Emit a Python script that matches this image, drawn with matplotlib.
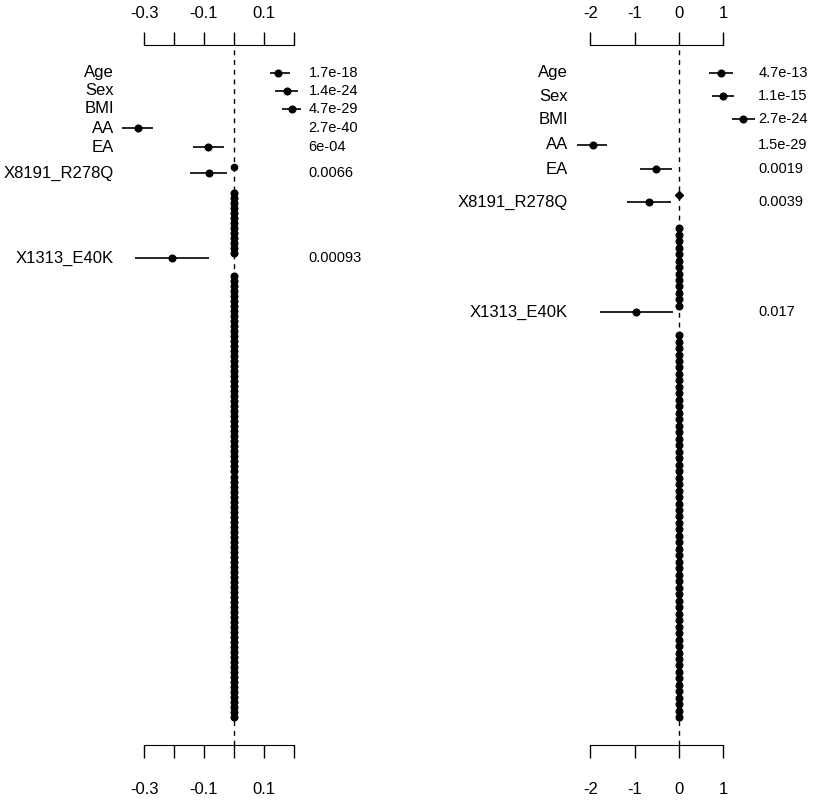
import matplotlib.pyplot as plt
import numpy as np

plt.rcParams['font.family'] = ['Liberation Sans', 'DejaVu Sans']

# rows that carry a label (same order in both panels)
labels = ["Age", "Sex", "BMI", "AA", "EA", "X8191_R278Q", "X1313_E40K"]
row_pos = [0, 3.6, 7.2, 11.1, 14.9, 20.0, 37.0]

# left panel
left_est = [0.149, 0.177, 0.196, -0.321, -0.087, -0.083, -0.206]
left_lo = [0.121, 0.138, 0.160, -0.375, -0.137, -0.146, -0.330]
left_hi = [0.189, 0.216, 0.224, -0.271, -0.032, -0.021, -0.082]
left_p = ["1.7e-18", "1.4e-24", "4.7e-29", "2.7e-40", "6e-04", "0.0066", "0.00093"]
left_ticks = [-0.3, -0.2, -0.1, 0.0, 0.1, 0.2]
left_ticklabels = ["-0.3", "", "-0.1", "", "0.1", ""]
left_n_tail = 89

# right panel
right_est = [0.96, 1.01, 1.46, -1.95, -0.51, -0.67, -0.97]
right_lo = [0.69, 0.75, 1.20, -2.31, -0.88, -1.16, -1.78]
right_hi = [1.22, 1.25, 1.73, -1.63, -0.16, -0.18, -0.12]
right_p = ["4.7e-13", "1.1e-15", "2.7e-24", "1.5e-29", "0.0019", "0.0039", "0.017"]
right_ticks = [-2, -1, 0, 1]
right_ticklabels = ["-2", "-1", "0", "1"]
right_n_tail = 60

# unlabeled variant rows, all sitting on zero
zero_row = 18.8
n_mid = 13
mid_start = 24
tail_start = 40.5


def forest(ax, est, lo, hi, pvals, n_tail, xlim, ticks, ticklabels, zmark):
    mid_rows = mid_start + np.arange(n_mid)
    tail_rows = tail_start + np.arange(n_tail)
    null_rows = np.concatenate([mid_rows, tail_rows])
    last = tail_rows[-1]
    m = 0.043 * last

    ax.axvline(0, color='k', lw=1, ls=(0, (3.5, 3.5)), zorder=1)
    ax.hlines(row_pos, lo, hi, color='k', lw=1.2, clip_on=False)
    ax.plot(est, row_pos, 'o', color='k', ms=4.8, clip_on=False)
    ax.plot(np.zeros(1), [zero_row], zmark, color='k', ms=4.5)
    ax.plot(np.zeros(len(null_rows)), null_rows, 'o', color='k', ms=4.8)

    for lab, y in zip(labels, row_pos):
        ax.text(0, y, lab, transform=ax.get_yaxis_transform(), ha='right',
                va='center', fontsize=12)
    for p, y in zip(pvals, row_pos):
        ax.text(1, y, p, transform=ax.get_yaxis_transform(), ha='left',
                va='center', fontsize=10.5)

    ax.set_xlim(xlim)
    ax.set_ylim(last + m, -m)
    ax.set_yticks([])
    for s in ['left', 'right', 'top']:
        ax.spines[s].set_visible(False)
    ax.spines['bottom'].set_bounds(ticks[0], ticks[-1])
    ax.set_xticks(ticks, ticklabels)
    ax.tick_params(axis='x', direction='out', length=9, width=1, pad=18,
                   labelsize=12)

    top = ax.secondary_xaxis('top')
    top.set_xticks(ticks, ticklabels)
    top.spines['top'].set_bounds(ticks[0], ticks[-1])
    top.tick_params(axis='x', direction='out', length=9.5, width=1, pad=8,
                    labelsize=12)


fig = plt.figure(figsize=(8.17, 8), dpi=100)
bottom = 1 - 745 / 800
height = 700 / 800
ax1 = fig.add_axes([114.1 / 817, bottom, 194.4 / 817, height])
ax2 = fig.add_axes([568.2 / 817, bottom, 190.1 / 817, height])

forest(ax1, left_est, left_lo, left_hi, left_p, left_n_tail, (-0.4, 0.25),
       left_ticks, left_ticklabels, 'o')
forest(ax2, right_est, right_lo, right_hi, right_p, right_n_tail, (-2.5, 1.8),
       right_ticks, right_ticklabels, 'D')

fig.savefig('out.png', dpi=100)
